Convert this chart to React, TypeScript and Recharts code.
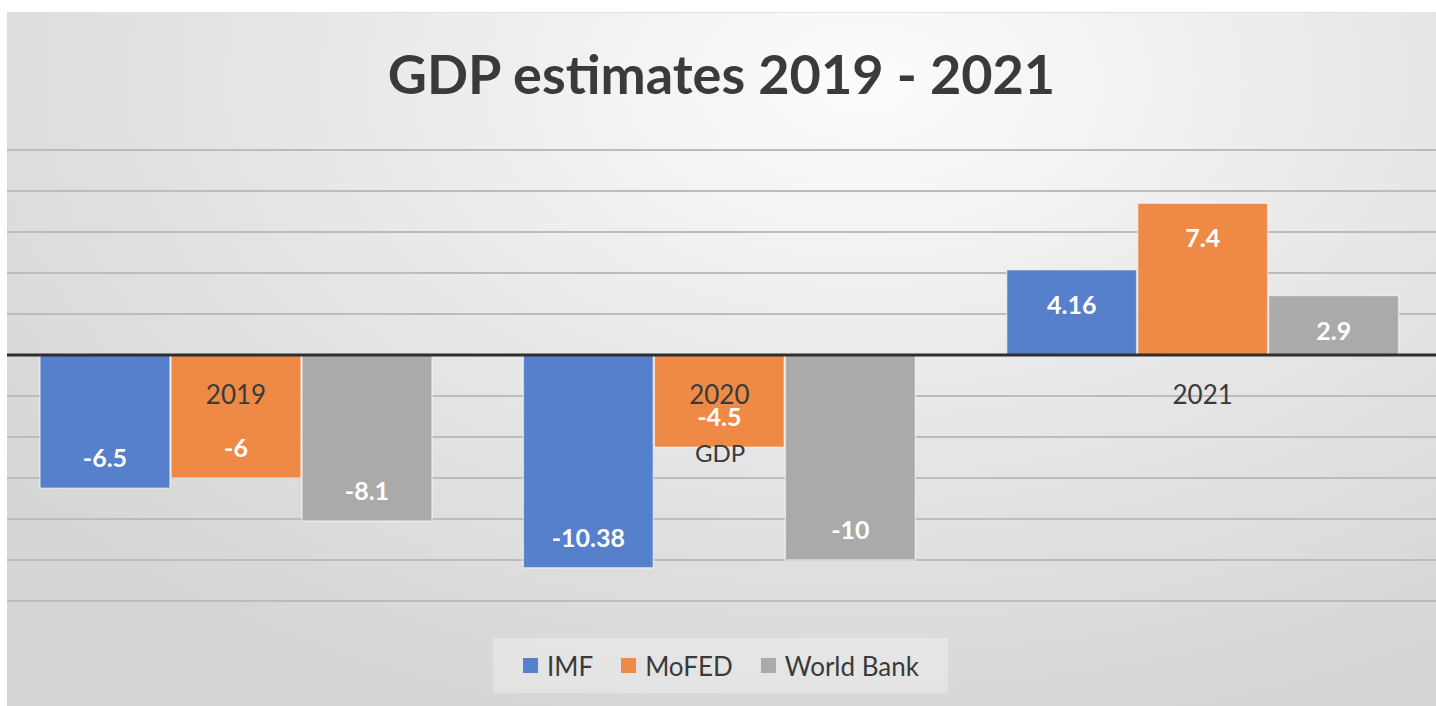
import {
  Bar,
  BarChart,
  CartesianGrid,
  LabelList,
  Legend,
  ReferenceLine,
  XAxis,
  YAxis,
} from 'recharts';

const title = 'GDP estimates 2019 - 2021';
const axisTitle = 'GDP';
const years = ['2019', '2020', '2021'];
const imf = [-6.5, -10.38, 4.16];
const mofed = [-6, -4.5, 7.4];
const worldBank = [-8.1, -10, 2.9];
const yTicks = [-12, -10, -8, -6, -4, -2, 0, 2, 4, 6, 8, 10];

const font = "Lato, 'Open Sans', sans-serif";
const textColor = '#3a3a3a';

const data = years.map((year, i) => ({
  year,
  imf: imf[i],
  mofed: mofed[i],
  worldBank: worldBank[i],
}));

// value label near the outer end of the bar, white bold
const ValueLabel = (props: any) => {
  const { x, y, width, height, value } = props;
  const top = Math.min(y, y + height);
  const bottom = Math.max(y, y + height);
  const baseline = value >= 0 ? top + 44 : bottom - 21;
  return (
    <text
      x={x + width / 2}
      y={baseline}
      textAnchor='middle'
      fill='#fff'
      fontFamily={font}
      fontWeight={700}
      fontSize={25}
    >
      {value}
    </text>
  );
};

// category label drawn just under the zero axis, centred on the middle bar
const YearLabel = (props: any) => {
  const { x, y, width, height, value, index } = props;
  const zero = mofed[index] >= 0 ? Math.max(y, y + height) : Math.min(y, y + height);
  return (
    <text
      x={x + width / 2}
      y={zero + 49}
      textAnchor='middle'
      fill={textColor}
      fontFamily={font}
      fontSize={26}
    >
      {value}
    </text>
  );
};

const AxisTitle = (props: any) => {
  const { viewBox } = props;
  return (
    <text
      x={viewBox.x + viewBox.width / 2}
      y={viewBox.y + 107}
      textAnchor='middle'
      fill={textColor}
      fontFamily={font}
      fontSize={24}
    >
      {axisTitle}
    </text>
  );
};

const LegendBox = (props: any) => {
  const { payload = [] } = props;
  return (
    <div
      style={{
        display: 'flex',
        alignItems: 'center',
        height: 55,
        paddingLeft: 30,
        boxSizing: 'border-box',
        background: 'rgba(255,255,255,0.3)',
        fontFamily: font,
        fontSize: 26,
        color: textColor,
        whiteSpace: 'nowrap',
      }}
    >
      {payload.map((entry: any) => (
        <div
          key={entry.value}
          style={{ display: 'flex', alignItems: 'center', marginRight: 28 }}
        >
          <span
            style={{
              width: 15,
              height: 15,
              background: entry.color,
              marginRight: 9,
              display: 'inline-block',
            }}
          />
          <span>{entry.value}</span>
        </div>
      ))}
    </div>
  );
};

export default function App() {
  return (
    <div
      style={{
        position: 'absolute',
        left: 0,
        top: 0,
        width: 1436,
        height: 706,
        background: '#fff',
        overflow: 'hidden',
      }}
    >
      <div
        style={{
          position: 'absolute',
          left: 7,
          top: 12,
          width: 1429,
          height: 694,
          overflow: 'hidden',
          borderTop: '1px solid #e2e2e2',
          boxSizing: 'border-box',
          background:
            'radial-gradient(ellipse 75% 95% at 60% 10%, #fcfcfc 0%, #f0f0f0 30%, #e2e2e2 65%, #d6d6d6 100%)',
        }}
      >
        <div
          style={{
            position: 'absolute',
            left: 0,
            right: 0,
            top: 34,
            textAlign: 'center',
            fontFamily: font,
            fontWeight: 700,
            fontSize: 54,
            lineHeight: '54px',
            color: textColor,
          }}
        >
          {title}
        </div>
        <div style={{ position: 'absolute', left: -12, top: -1 }}>
          <BarChart
            width={1450}
            height={694}
            data={data}
            margin={{ top: 138, right: 0, bottom: 105, left: 0 }}
            barCategoryGap={45}
            barGap={1}
          >
            <CartesianGrid vertical={false} stroke='#bcbcbc' strokeWidth={2} />
            <XAxis dataKey='year' hide />
            <YAxis
              type='number'
              domain={[-12, 10]}
              ticks={yTicks}
              hide
              width={0}
            />
            <Legend
              layout='horizontal'
              verticalAlign='middle'
              align='center'
              content={<LegendBox />}
              wrapperStyle={{ left: 498, top: 626, width: 455, height: 55 }}
            />
            <Bar
              dataKey='imf'
              name='IMF'
              fill='#5780cc'
              stroke='rgba(255,255,255,0.55)'
              strokeWidth={1.5}
              isAnimationActive={false}
            >
              <LabelList dataKey='imf' content={<ValueLabel />} />
            </Bar>
            <Bar
              dataKey='mofed'
              name='MoFED'
              fill='#ee8a46'
              stroke='rgba(255,255,255,0.55)'
              strokeWidth={1.5}
              isAnimationActive={false}
            >
              <LabelList dataKey='mofed' content={<ValueLabel />} />
              <LabelList dataKey='year' content={<YearLabel />} />
            </Bar>
            <Bar
              dataKey='worldBank'
              name='World Bank'
              fill='#aaaaaa'
              stroke='rgba(255,255,255,0.55)'
              strokeWidth={1.5}
              isAnimationActive={false}
            >
              <LabelList dataKey='worldBank' content={<ValueLabel />} />
            </Bar>
            <ReferenceLine
              y={0}
              stroke='#2e2e2e'
              strokeWidth={3}
              label={<AxisTitle />}
            />
          </BarChart>
        </div>
      </div>
    </div>
  );
}
